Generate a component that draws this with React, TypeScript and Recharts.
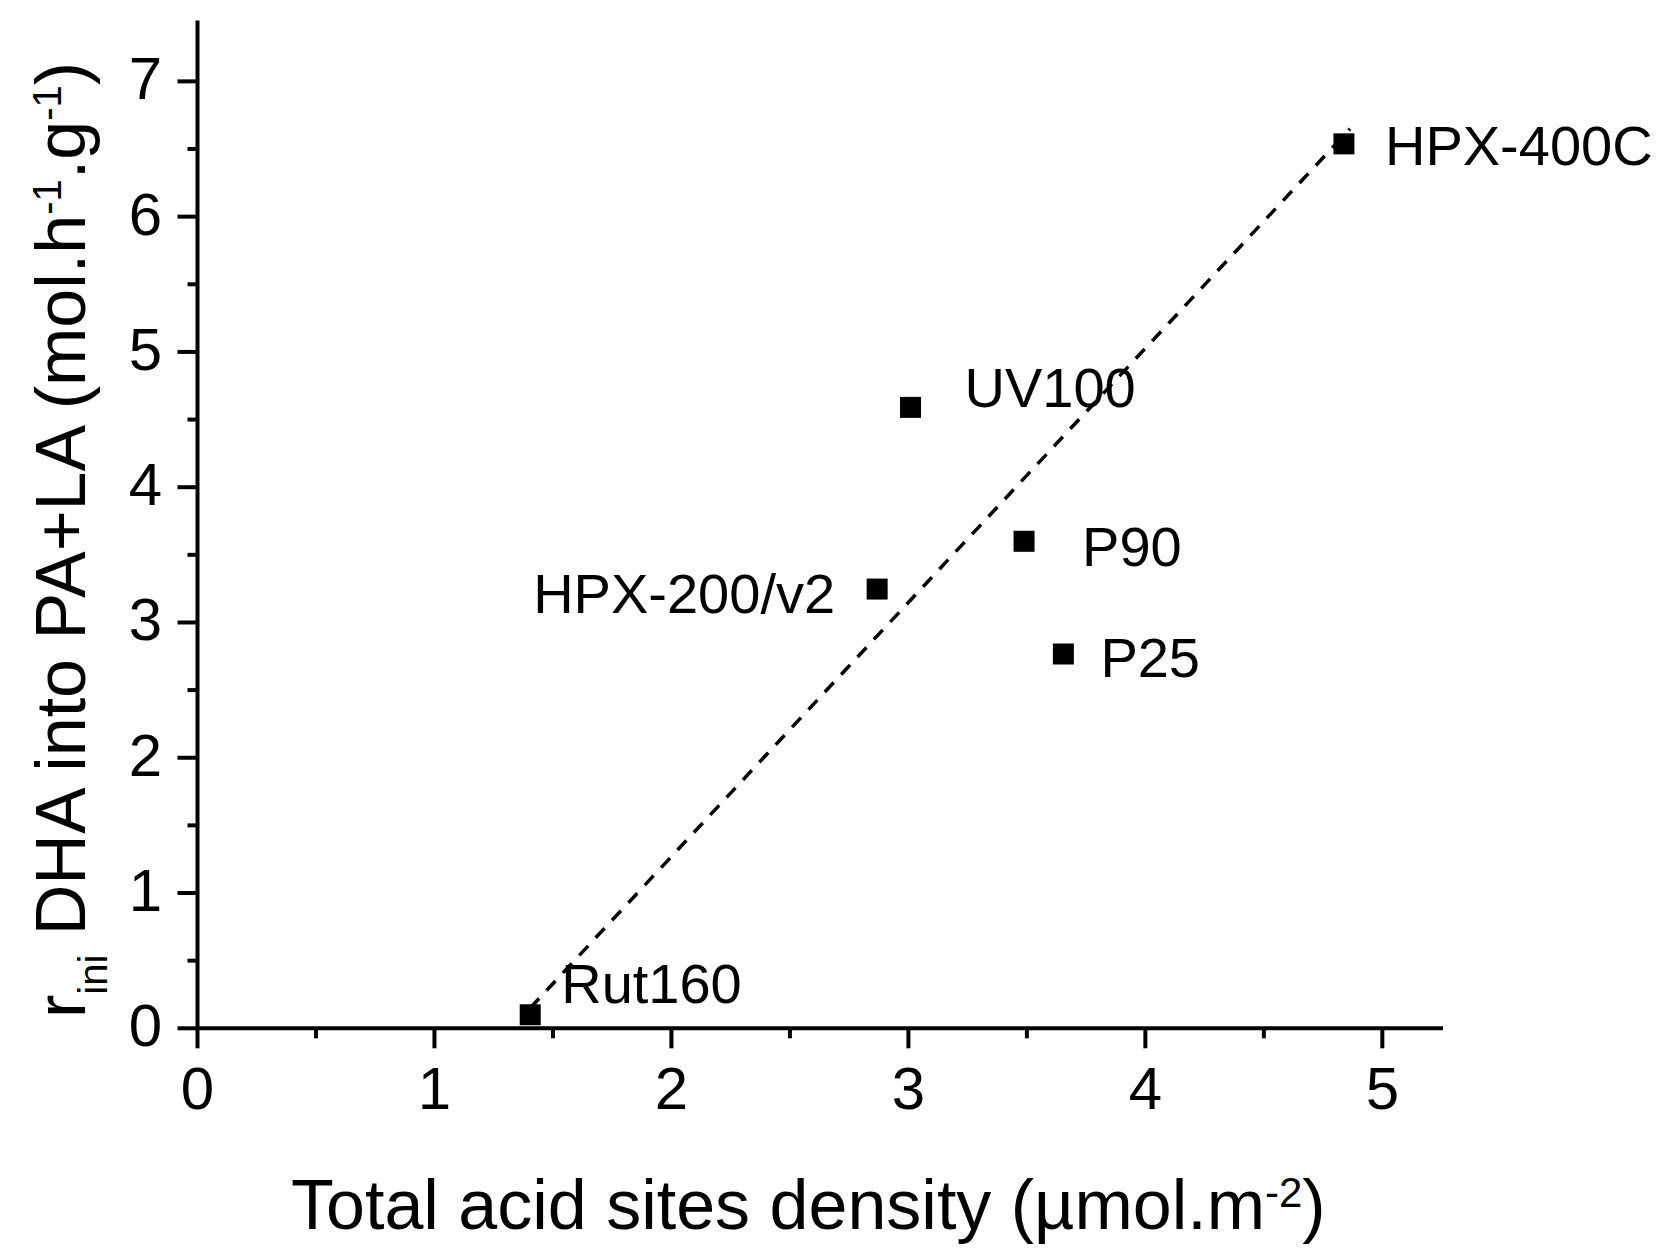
import React from 'react';
import { ScatterChart, Scatter, XAxis, YAxis } from 'recharts';

// measured values (total acid site density vs initial rate)
const sampleNames = ['Rut160', 'HPX-200/v2', 'UV100', 'P90', 'P25', 'HPX-400C'];
const acidDensity = [1.404, 2.868, 3.009, 3.488, 3.654, 4.838];
const initialRate = [0.1, 3.247, 4.59, 3.6, 2.767, 6.538];

// linear fit end points
const fitX = [1.404, 4.864];
const fitY = [0.15, 6.65];

const xTicks = [0, 0.5, 1, 1.5, 2, 2.5, 3, 3.5, 4, 4.5, 5];
const yTicks = [0, 0.5, 1, 1.5, 2, 2.5, 3, 3.5, 4, 4.5, 5, 5.5, 6, 6.5, 7];

const W = 1659;
const H = 1260;
const PLOT_LEFT = 197.5;
const PLOT_RIGHT = 1443;
const PLOT_TOP = 20.5;
const PLOT_BOTTOM = 1028.3;
const FONT = '"Liberation Sans", Arial, Helvetica, sans-serif';

// label placement relative to each marker centre
const labelPos: Record<string, { dx: number; dy: number; anchor: 'start' | 'end' }> = {
  'Rut160': { dx: 31, dy: -12, anchor: 'start' },
  'HPX-200/v2': { dx: -42, dy: 24, anchor: 'end' },
  'UV100': { dx: 54, dy: 0, anchor: 'start' },
  'P90': { dx: 58, dy: 25, anchor: 'start' },
  'P25': { dx: 37, dy: 23, anchor: 'start' },
  'HPX-400C': { dx: 41, dy: 21, anchor: 'start' },
};

const points = sampleNames.map((name, i) => ({ name, x: acidDensity[i], y: initialRate[i] }));
const fitLine = fitX.map((x, i) => ({ x, y: fitY[i] }));

const YTick = (props: any) => {
  const { y, payload } = props;
  const major = Number.isInteger(payload.value);
  return (
    <g>
      <line x1={PLOT_LEFT - (major ? 20 : 10)} x2={PLOT_LEFT} y1={y} y2={y} stroke="#000" strokeWidth={4} />
      {major && (
        <text x={162} y={y + 18} textAnchor="end" fontSize={60} fontFamily={FONT} fill="#000">
          {payload.value}
        </text>
      )}
    </g>
  );
};

const XTick = (props: any) => {
  const { x, payload } = props;
  const major = Number.isInteger(payload.value);
  return (
    <g>
      <line x1={x} x2={x} y1={PLOT_BOTTOM} y2={PLOT_BOTTOM + (major ? 20 : 10)} stroke="#000" strokeWidth={4} />
      {major && (
        <text x={x} y={PLOT_BOTTOM + 81} textAnchor="middle" fontSize={60} fontFamily={FONT} fill="#000">
          {payload.value}
        </text>
      )}
    </g>
  );
};

const renderPoint = (props: any) => {
  const { cx, cy, payload } = props;
  const pos = labelPos[payload.name];
  return (
    <g>
      <rect x={cx - 10.5} y={cy - 10.5} width={21} height={21} fill="#000" />
      <text
        x={cx + pos.dx}
        y={cy + pos.dy}
        textAnchor={pos.anchor}
        fontSize={56}
        fontFamily={FONT}
        fill="#000"
      >
        {payload.name}
      </text>
    </g>
  );
};

const xTitle = () => (
  <text x={291} y={1229} fontSize={70} fontFamily={FONT} fill="#000">
    Total acid sites density (µmol.m
    <tspan dy={-22} fontSize={42}>-2</tspan>
    <tspan dy={22}>)</tspan>
  </text>
);

const yTitle = () => (
  <text x={85} y={1018} fontSize={70} fontFamily={FONT} fill="#000" transform="rotate(-90 85 1018)">
    r<tspan dy={22} fontSize={40}>ini</tspan>
    <tspan dy={-22}> DHA into PA+LA (mol.h</tspan>
    <tspan dy={-24} fontSize={40}>-1</tspan>
    <tspan dy={24}>.g</tspan>
    <tspan dy={-24} fontSize={40}>-1</tspan>
    <tspan dy={24}>)</tspan>
  </text>
);

export default function App() {
  return (
    <div style={{ position: 'absolute', left: 0, top: 0, width: W, height: H, background: '#fff' }}>
      <ScatterChart
        width={W}
        height={H}
        margin={{ top: PLOT_TOP, right: W - PLOT_RIGHT, bottom: H - PLOT_BOTTOM - 100, left: PLOT_LEFT - 100 }}
      >
        <XAxis
          type="number"
          dataKey="x"
          domain={[0, 5.256]}
          ticks={xTicks}
          interval={0}
          height={100}
          axisLine={{ stroke: '#000', strokeWidth: 4 }}
          tickLine={false}
          tick={<XTick />}
          label={{ content: xTitle }}
        />
        <YAxis
          type="number"
          dataKey="y"
          domain={[0, 7.45]}
          ticks={yTicks}
          interval={0}
          width={100}
          axisLine={{ stroke: '#000', strokeWidth: 4 }}
          tickLine={false}
          tick={<YTick />}
          label={{ content: yTitle }}
        />
        <Scatter data={points} shape={renderPoint} isAnimationActive={false} />
        <Scatter
          data={fitLine}
          line={{ stroke: '#000', strokeWidth: 3.5, strokeDasharray: '13 11' }}
          lineType="joint"
          shape={() => <g />}
          isAnimationActive={false}
        />
      </ScatterChart>
    </div>
  );
}
